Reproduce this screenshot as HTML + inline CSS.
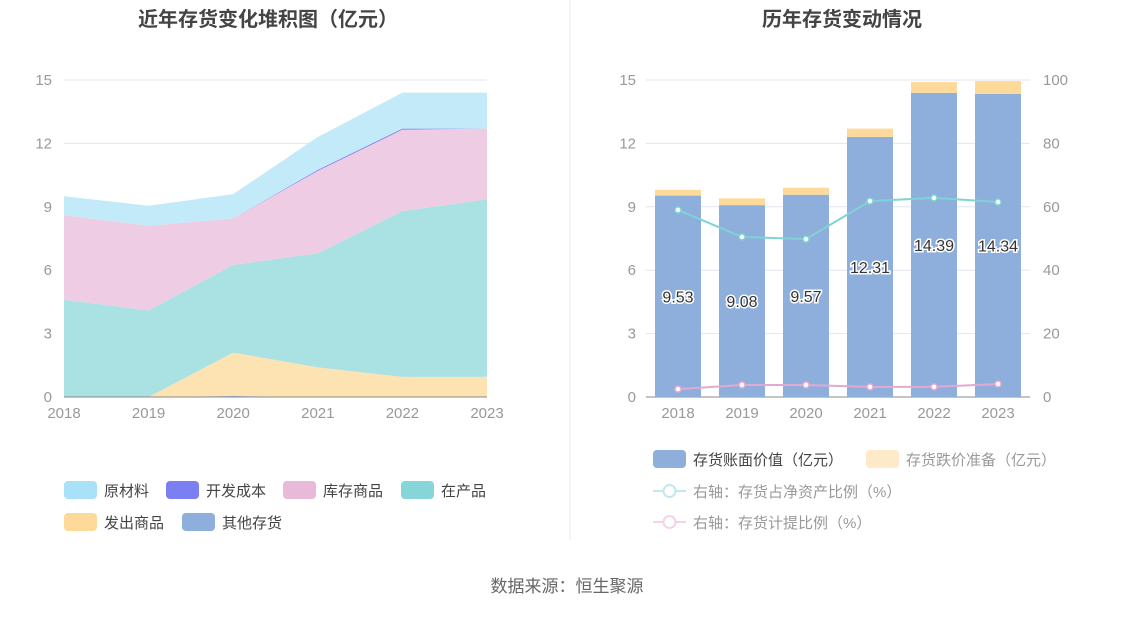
<!DOCTYPE html>
<html><head><meta charset="utf-8"><style>
body{margin:0;background:#fff;font-family:"Liberation Sans","Noto Sans CJK SC",sans-serif;}
svg text{font-family:"Liberation Sans","Noto Sans CJK SC",sans-serif;}
</style></head><body>
<svg id="c" width="1134" height="612">
<text x="268" y="26" text-anchor="middle" font-size="20" font-weight="bold" fill="#444">近年存货变化堆积图（亿元）</text>
<text x="842" y="26" text-anchor="middle" font-size="20" font-weight="bold" fill="#444">历年存货变动情况</text>
<line x1="570" y1="0" x2="570" y2="540" stroke="#e8e8e8"/>
<text x="567" y="592" text-anchor="middle" font-size="17" fill="#666">数据来源：恒生聚源</text>
<g id="L"></g><g id="R"></g>
</svg>
<script>
const years=['2018','2019','2020','2021','2022','2023'];
const other=[0,0,0.05,0,0,0];
const shipped=[0,0,2.05,1.4,0.95,0.95];
const wip=[4.6,4.1,4.15,5.4,7.85,8.4];
const goods=[4.0,4.0,2.2,3.9,3.85,3.35];
const devCost=[0,0,0,0.05,0.05,0];
const raw=[0.9,0.95,1.15,1.55,1.7,1.7];
const leftTicks=[0,3,6,9,12,15];
const bookVal=[9.53,9.08,9.57,12.31,14.39,14.34];
const reserve=[0.27,0.32,0.33,0.39,0.51,0.61];
const netRatio=[59,50.5,49.8,61.8,62.8,61.5];
const provRatio=[2.5,3.8,3.8,3.2,3.2,4.1];
const rightTicks=[0,20,40,60,80,100];
const NS='http://www.w3.org/2000/svg';
function mk(p,t,a,txt){const e=document.createElementNS(NS,t);for(const k in a)e.setAttribute(k,a[k]);if(txt!==undefined)e.textContent=txt;p.appendChild(e);return e;}
const y0=397,yTop=80;
const yv=v=>y0-(v/15)*(y0-yTop);
const yr=v=>y0-(v/100)*(y0-yTop);
// left
const L=document.getElementById('L');
const xl=i=>64+i*(487-64)/5;
leftTicks.forEach(t=>{
 const g=mk(L,'line',{x1:64,x2:487,y1:yv(t),y2:yv(t),stroke:t?'#e3e6ef':'#888'});
 
 
 const tx=mk(L,'text',{x:52,y:yv(t)+5,'text-anchor':'end','font-size':15,fill:'#999'},t);
 
 
});
years.forEach((y,i)=>{
 const tx=mk(L,'text',{x:xl(i),y:418,'text-anchor':'middle','font-size':15,fill:'#999'},y);
 
 
});
const series=[[other,'#8eaedc','其他存货'],[shipped,'#fde2b2','发出商品'],[wip,'#aae2e3','在产品'],[goods,'#eeccE3','库存商品'],[devCost,'#7b7ff2','开发成本'],[raw,'#c2eaf8','原材料']];
let base=[0,0,0,0,0,0];
series.forEach(([arr,col,nm])=>{
 const top=base.map((b,i)=>b+arr[i]);
 let d='M'+top.map((v,i)=>xl(i)+','+yv(v)).join('L');
 for(let i=5;i>=0;i--)d+='L'+xl(i)+','+yv(base[i]);
 const p=mk(L,'path',{d:d+'Z',fill:col,stroke:'none'});
 
 
 base=top;
});
mk(L,'line',{x1:64,x2:487,y1:397,y2:397,stroke:'#888'});
const legL=[['原材料','#a9e1f8',64,490],['开发成本','#7b7ff2',166,490],['库存商品','#e8b9d9',283,490],['在产品','#86d5d8',401,490],['发出商品','#fdd99a',64,522],['其他存货','#8eaedc',182,522]];
legL.forEach(([t,c,x,y])=>{
 const r=mk(L,'rect',{x:x,y:y-9,width:33,height:18,rx:4,fill:c});
 
 
 const tx=mk(L,'text',{x:x+40,y:y+6,'font-size':15,fill:'#444'},t);
 
 
});
// right
const R=document.getElementById('R');
const xr=i=>678+i*64;
leftTicks.forEach(t=>{
 const g=mk(R,'line',{x1:646,x2:1030,y1:yv(t),y2:yv(t),stroke:t?'#e3e6ef':'#888'});
 
 
 const tx=mk(R,'text',{x:636,y:yv(t)+5,'text-anchor':'end','font-size':15,fill:'#999'},t);
 
 
});
rightTicks.forEach(t=>{
 const tx=mk(R,'text',{x:1043,y:yr(t)+5,'font-size':15,fill:'#999'},t);
 
 
});
years.forEach((y,i)=>{
 const tx=mk(R,'text',{x:xr(i),y:418,'text-anchor':'middle','font-size':15,fill:'#999'},y);
 
 
 const b=mk(R,'rect',{x:xr(i)-23,y:yv(bookVal[i]),width:46,height:y0-yv(bookVal[i]),fill:'#8eaedc'});
 
 
 const r=mk(R,'rect',{x:xr(i)-23,y:yv(bookVal[i]+reserve[i]),width:46,height:yv(bookVal[i])-yv(bookVal[i]+reserve[i]),fill:'#fdd99a'});
 
 
 const lb=mk(R,'text',{x:xr(i),y:(yv(bookVal[i])+y0)/2+6,'text-anchor':'middle','font-size':16,fill:'#333',stroke:'#fff','stroke-width':3,'paint-order':'stroke'},bookVal[i].toFixed(2));
 
 
});
[[netRatio,'#7fd3d4'],[provRatio,'#e4a9d1']].forEach(([arr,c])=>{
 const pl=mk(R,'polyline',{points:arr.map((v,i)=>xr(i)+','+yr(v)).join(' '),fill:'none',stroke:c,'stroke-width':2});
 
 
 arr.forEach((v,i)=>{
  const ci=mk(R,'circle',{cx:xr(i),cy:yr(v),r:3,fill:'#fff',stroke:c,'stroke-width':1.5});
  
  
 });
});
[['存货账面价值（亿元）','#8eaedc','#444',459],['存货跌价准备（亿元）','#fee9c8','#999',459]].forEach(([t,c,tc,y],k)=>{
 const x=k?866:653;
 const r=mk(R,'rect',{x:x,y:y-9,width:33,height:18,rx:4,fill:c});
 
 
 const tx=mk(R,'text',{x:x+40,y:y+6,'font-size':15,fill:tc},t);
 
 
});
[['右轴：存货占净资产比例（%）','#bfe9ec',491],['右轴：存货计提比例（%）','#f3d3e8',522]].forEach(([t,c,y])=>{
 const l=mk(R,'line',{x1:653,x2:686,y1:y,y2:y,stroke:c,'stroke-width':2});
 
 
 const ci=mk(R,'circle',{cx:669.5,cy:y,r:6,fill:'#fff',stroke:c,'stroke-width':2});
 
 
 const tx=mk(R,'text',{x:693,y:y+6,'font-size':15,fill:'#999'},t);
 
 
});
</script>
</body></html>
